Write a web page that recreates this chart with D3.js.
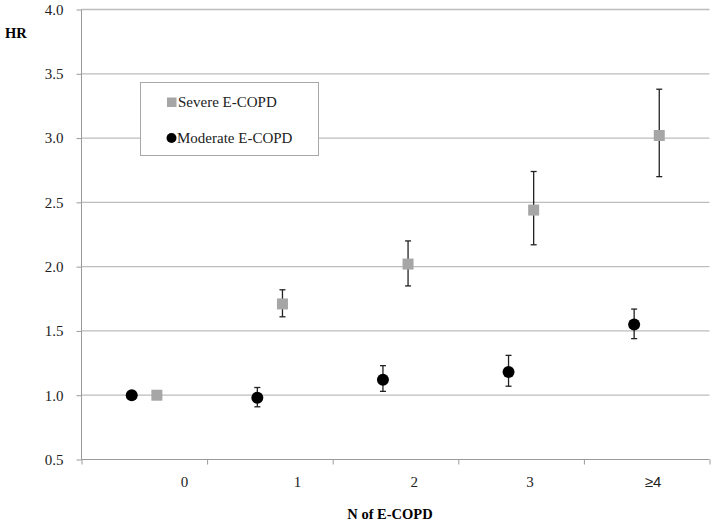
<!DOCTYPE html>
<html>
<head>
<meta charset="utf-8">
<title>HR by N of E-COPD</title>
<style>
  body { margin: 0; background: #fff; }
  svg { display: block; font-family: "Liberation Serif", "Times New Roman", serif; }
  .grid line { stroke: #bdbdbd; stroke-width: 1.3; }
  .axis path, .axis line { stroke: #9a9a9a; }
</style>
</head>
<body>
<svg width="715" height="524"></svg>
<script src="https://cdn.jsdelivr.net/npm/d3@7"></script>
<script>
// categories and their label positions (in category units, labels sit off-centre in the original)
var categories = ["0", "1", "2", "3", "\u22654"];
var labelPos = [0.82, 1.72, 2.65, 3.57, 4.55];

// Severe E-COPD: HR with 95% CI
var severeHR  = [1.00, 1.71, 2.02, 2.44, 3.02];
var severeLo  = [null, 1.61, 1.85, 2.17, 2.70];
var severeHi  = [null, 1.82, 2.20, 2.74, 3.38];

// Moderate E-COPD: HR with 95% CI
var moderateHR = [1.00, 0.98, 1.12, 1.18, 1.55];
var moderateLo = [null, 0.91, 1.03, 1.07, 1.44];
var moderateHi = [null, 1.06, 1.23, 1.31, 1.67];

var yTicks = [0.5, 1.0, 1.5, 2.0, 2.5, 3.0, 3.5, 4.0];

var svg = d3.select("svg");

var x = d3.scaleLinear().domain([0, 5]).range([81.5, 709.5]);
var y = d3.scaleLinear().domain([0.5, 4]).range([459.5, 9.5]);

// horizontal gridlines
svg.append("g")
    .attr("class", "grid")
    .selectAll("line")
    .data(yTicks.slice(1))
    .enter().append("line")
      .attr("x1", x(0))
      .attr("x2", x(5))
      .attr("y1", function(d) { return y(d); })
      .attr("y2", function(d) { return y(d); });

// y axis
svg.append("g")
    .attr("class", "axis")
    .attr("transform", "translate(" + x(0) + ",0)")
    .call(d3.axisLeft(y).tickValues(yTicks).tickSize(5).tickPadding(13)
        .tickFormat(d3.format(".1f")))
    .call(function(g) {
        g.select(".domain").attr("d", "M0," + y(0.5) + "V" + y(4));
        g.selectAll("text").attr("font-size", 15).attr("fill", "#222")
            .attr("font-family", "Liberation Serif, serif");
    });

// x axis (tick marks only at category boundaries)
svg.append("g")
    .attr("class", "axis")
    .attr("transform", "translate(0," + y(0.5) + ")")
    .call(d3.axisBottom(x).tickValues(d3.range(0, 6)).tickSize(5).tickFormat(""))
    .call(function(g) {
        g.select(".domain").attr("d", "M" + x(0) + ",0H" + x(5));
    });

// category labels
svg.append("g")
    .selectAll("text")
    .data(categories)
    .enter().append("text")
      .attr("x", function(d, i) { return x(labelPos[i]); })
      .attr("y", 487)
      .attr("text-anchor", "middle")
      .attr("font-size", 15)
      .attr("fill", "#222")
      .attr("font-family", function(d, i) { return i === 4 ? "Liberation Sans, sans-serif" : null; })
      .text(function(d) { return d; });

// axis titles
svg.append("text")
    .attr("x", 5).attr("y", 38)
    .attr("font-size", 14.5).attr("font-weight", "bold")
    .text("HR");

svg.append("text")
    .attr("x", 390).attr("y", 519)
    .attr("text-anchor", "middle")
    .attr("font-size", 14.5).attr("font-weight", "bold")
    .text("N of E-COPD");

function drawErrors(hr, lo, hi, offset) {
    var g = svg.append("g").attr("stroke", "#222").attr("stroke-width", 1.3);
    var idx = d3.range(hr.length).filter(function(i) { return lo[i] != null; });
    idx.forEach(function(i) {
        var cx = x(i + offset);
        g.append("line").attr("x1", cx).attr("x2", cx).attr("y1", y(lo[i])).attr("y2", y(hi[i]));
        g.append("line").attr("x1", cx - 3).attr("x2", cx + 3).attr("y1", y(lo[i])).attr("y2", y(lo[i]));
        g.append("line").attr("x1", cx - 3).attr("x2", cx + 3).attr("y1", y(hi[i])).attr("y2", y(hi[i]));
    });
}

drawErrors(severeHR, severeLo, severeHi, 0.6);
drawErrors(moderateHR, moderateLo, moderateHi, 0.4);

// severe: grey squares
svg.append("g")
    .selectAll("rect")
    .data(severeHR)
    .enter().append("rect")
      .attr("x", function(d, i) { return x(i + 0.6) - 5.5; })
      .attr("y", function(d) { return y(d) - 5.5; })
      .attr("width", 11).attr("height", 11)
      .attr("fill", "#a6a6a6");

// moderate: black circles
svg.append("g")
    .selectAll("circle")
    .data(moderateHR)
    .enter().append("circle")
      .attr("cx", function(d, i) { return x(i + 0.4); })
      .attr("cy", function(d) { return y(d); })
      .attr("r", 6)
      .attr("fill", "#000");

// legend
var lg = svg.append("g");
lg.append("rect")
    .attr("x", 140.5).attr("y", 82.5).attr("width", 178).attr("height", 73)
    .attr("fill", "#fff").attr("stroke", "#a8a8a8");
lg.append("rect")
    .attr("x", 167).attr("y", 97.5).attr("width", 9.5).attr("height", 9.5)
    .attr("fill", "#a6a6a6");
lg.append("text")
    .attr("x", 178).attr("y", 107).attr("font-size", 15).attr("fill", "#222")
    .text("Severe E-COPD");
lg.append("circle")
    .attr("cx", 171.5).attr("cy", 138).attr("r", 5).attr("fill", "#000");
lg.append("text")
    .attr("x", 177).attr("y", 143).attr("font-size", 15).attr("fill", "#222")
    .text("Moderate E-COPD");
</script>
</body>
</html>
